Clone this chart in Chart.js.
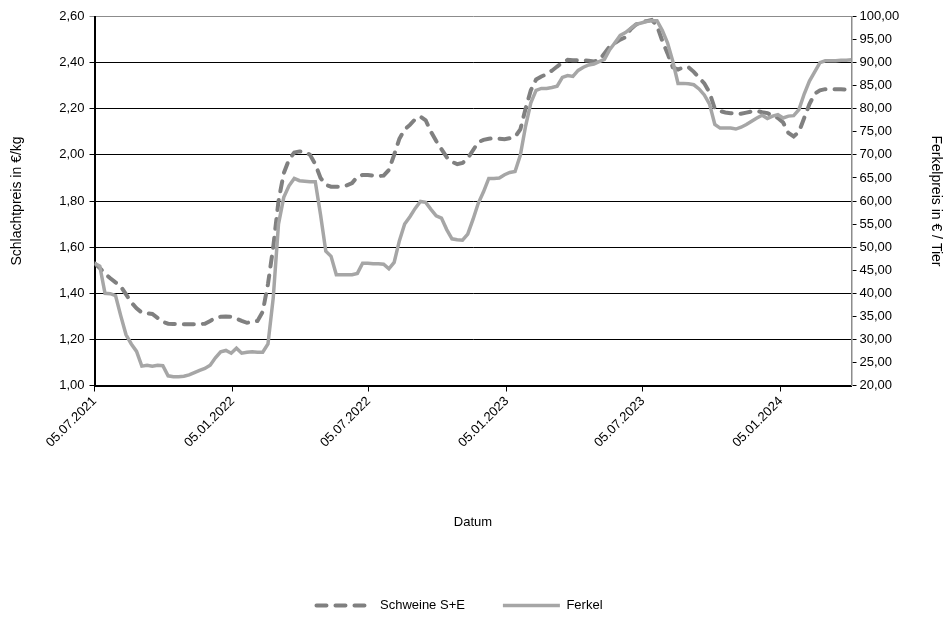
<!DOCTYPE html>
<html lang="de">
<head>
<meta charset="utf-8">
<title>Schlachtpreis und Ferkelpreis</title>
<script src="https://cdn.jsdelivr.net/npm/chart.js@4.4.1/dist/chart.umd.min.js"></script>
<style>
  html, body { margin: 0; padding: 0; background: #fff; }
  #wrap { width: 951px; height: 619px; }
</style>
</head>
<body>
<div id="wrap"><canvas id="preise"></canvas></div>
<script>
// Wochenwerte (Montag)
const datum = [
    '05.07.2021', '12.07.2021', '19.07.2021', '26.07.2021', '02.08.2021', '09.08.2021', '16.08.2021', '23.08.2021', '30.08.2021',
    '06.09.2021', '13.09.2021', '20.09.2021', '27.09.2021', '04.10.2021', '11.10.2021', '18.10.2021', '25.10.2021',
    '01.11.2021', '08.11.2021', '15.11.2021', '22.11.2021', '29.11.2021', '06.12.2021', '13.12.2021', '20.12.2021', '27.12.2021',
    '03.01.2022', '10.01.2022', '17.01.2022', '24.01.2022', '31.01.2022', '07.02.2022', '14.02.2022', '21.02.2022', '28.02.2022',
    '07.03.2022', '14.03.2022', '21.03.2022', '28.03.2022', '04.04.2022', '11.04.2022', '18.04.2022', '25.04.2022',
    '02.05.2022', '09.05.2022', '16.05.2022', '23.05.2022', '30.05.2022', '06.06.2022', '13.06.2022', '20.06.2022', '27.06.2022',
    '04.07.2022', '11.07.2022', '18.07.2022', '25.07.2022', '01.08.2022', '08.08.2022', '15.08.2022', '22.08.2022', '29.08.2022',
    '05.09.2022', '12.09.2022', '19.09.2022', '26.09.2022', '03.10.2022', '10.10.2022', '17.10.2022', '24.10.2022', '31.10.2022',
    '07.11.2022', '14.11.2022', '21.11.2022', '28.11.2022', '05.12.2022', '12.12.2022', '19.12.2022', '26.12.2022',
    '02.01.2023', '09.01.2023', '16.01.2023', '23.01.2023', '30.01.2023', '06.02.2023', '13.02.2023', '20.02.2023', '27.02.2023',
    '06.03.2023', '13.03.2023', '20.03.2023', '27.03.2023', '03.04.2023', '10.04.2023', '17.04.2023', '24.04.2023',
    '01.05.2023', '08.05.2023', '15.05.2023', '22.05.2023', '29.05.2023', '05.06.2023', '12.06.2023', '19.06.2023', '26.06.2023',
    '03.07.2023', '10.07.2023', '17.07.2023', '24.07.2023', '31.07.2023', '07.08.2023', '14.08.2023', '21.08.2023', '28.08.2023',
    '04.09.2023', '11.09.2023', '18.09.2023', '25.09.2023', '02.10.2023', '09.10.2023', '16.10.2023', '23.10.2023', '30.10.2023',
    '06.11.2023', '13.11.2023', '20.11.2023', '27.11.2023', '04.12.2023', '11.12.2023', '18.12.2023', '25.12.2023',
    '01.01.2024', '08.01.2024', '15.01.2024', '22.01.2024', '29.01.2024', '05.02.2024', '12.02.2024', '19.02.2024', '26.02.2024',
    '04.03.2024', '11.03.2024', '18.03.2024', '25.03.2024', '01.04.2024', '08.04.2024'
];

// Schlachtpreis Schweine S+E in €/kg
const schweine = [
    1.53, 1.51, 1.485, 1.465, 1.447, 1.43, 1.395, 1.36, 1.335, 1.316,
    1.313, 1.31, 1.293, 1.276, 1.268, 1.267, 1.266, 1.266, 1.266, 1.266,
    1.266, 1.268, 1.28, 1.293, 1.298, 1.299, 1.298, 1.29, 1.28, 1.272,
    1.275, 1.28, 1.32, 1.44, 1.60, 1.80, 1.92, 1.98, 2.01, 2.015,
    2.015, 2.0, 1.96, 1.90, 1.87, 1.862, 1.862, 1.863, 1.868, 1.878,
    1.905, 1.913, 1.913, 1.91, 1.908, 1.91, 1.935, 2.00, 2.07, 2.11,
    2.13, 2.155, 2.166, 2.15, 2.10, 2.06, 2.025, 1.99, 1.97, 1.96,
    1.965, 1.985, 2.02, 2.055, 2.065, 2.07, 2.072, 2.07, 2.068, 2.072,
    2.078, 2.11, 2.20, 2.28, 2.327, 2.34, 2.35, 2.365, 2.383, 2.40,
    2.412, 2.41, 2.41, 2.41, 2.408, 2.405, 2.41, 2.44, 2.47, 2.485,
    2.50, 2.51, 2.545, 2.565, 2.575, 2.58, 2.585, 2.56, 2.495, 2.44,
    2.38, 2.37, 2.38, 2.38, 2.36, 2.335, 2.31, 2.27, 2.20, 2.19,
    2.184, 2.181, 2.18, 2.178, 2.183, 2.188, 2.19, 2.185, 2.181, 2.17,
    2.16, 2.14, 2.095, 2.08, 2.10, 2.16, 2.22, 2.265, 2.28, 2.285,
    2.285, 2.285, 2.285, 2.283, 2.282
];

// Ferkelpreis in € je Tier
const ferkel = [
    46.5, 45.9, 40.0, 39.9, 39.5, 35.1, 31.0, 29.0, 27.4, 24.2,
    24.4, 24.2, 24.4, 24.3, 22.1, 21.9, 21.9, 22.0, 22.3, 22.8,
    23.3, 23.7, 24.4, 26.0, 27.3, 27.6, 27.0, 28.1, 27.0, 27.2,
    27.3, 27.2, 27.2, 29.0, 39.0, 55.0, 60.8, 63.3, 64.9, 64.4,
    64.3, 64.2, 64.2, 57.0, 49.1, 48.0, 44.0, 44.0, 44.0, 44.0,
    44.3, 46.5, 46.5, 46.4, 46.4, 46.3, 45.3, 46.7, 51.4, 55.0,
    56.6, 58.4, 59.9, 59.7, 58.2, 56.8, 56.3, 53.8, 51.8, 51.6,
    51.5, 52.8, 56.0, 59.5, 62.0, 64.9, 64.9, 65.0, 65.7, 66.2,
    66.4, 69.9, 76.2, 81.3, 84.0, 84.4, 84.4, 84.6, 84.9, 86.8,
    87.2, 87.0, 88.3, 89.0, 89.5, 89.7, 90.2, 90.7, 92.8, 94.3,
    95.9, 96.5, 97.4, 98.3, 98.6, 98.9, 99.1, 99.1, 97.0, 94.3,
    90.3, 85.5, 85.5, 85.4, 85.2, 84.3, 83.0, 81.0, 76.6, 75.8,
    75.8, 75.8, 75.6, 76.0, 76.6, 77.3, 78.0, 78.6, 77.9, 78.4,
    78.7, 78.0, 78.4, 78.5, 79.8, 83.2, 86.0, 88.0, 90.0, 90.4,
    90.4, 90.4, 90.5, 90.5, 90.6
];

// Beschriftung der Datumsachse
const achsenDaten = ['05.07.2021', '05.01.2022', '05.07.2022', '05.01.2023', '05.07.2023', '05.01.2024'];

const schrift = { family: "'Liberation Sans', Arial, sans-serif", size: 13 };

// Tage seit dem ersten Datum
function tage(s) {
    const [d, m, y] = s.split('.').map(Number);
    const [d0, m0, y0] = datum[0].split('.').map(Number);
    return (Date.UTC(y, m - 1, d) - Date.UTC(y0, m0 - 1, d0)) / 86400000;
}

const zahl = (v) => Number(v).toFixed(2).replace('.', ',');

// Legende wie im Original etwas nach links und unten
const legendeVersatz = {
    id: 'legendeVersatz',
    afterLayout(chart) {
        const l = chart.legend;
        l.left -= 16; l.right -= 16;
        l.top += 3; l.bottom += 3;
    }
};

Chart.defaults.font.family = schrift.family;
Chart.defaults.font.size = schrift.size;
Chart.defaults.color = '#000';

const ctx = document.getElementById('preise');

new Chart(ctx, {
    type: 'line',
    data: {
        datasets: [
            {
                label: 'Schweine S+E',
                data: datum.map((d, i) => ({ x: tage(d), y: schweine[i] })),
                yAxisID: 'y',
                borderColor: '#808080',
                borderWidth: 4,
                borderDash: [10, 9],
                borderCapStyle: 'round',
                pointRadius: 0,
                tension: 0,
                fill: false,
                order: 1,
            },
            {
                label: 'Ferkel',
                data: datum.map((d, i) => ({ x: tage(d), y: ferkel[i] })),
                yAxisID: 'y2',
                borderColor: '#a6a6a6',
                borderWidth: 3.5,
                pointRadius: 0,
                tension: 0,
                fill: false,
                order: 0,
            },
        ],
    },
    options: {
        responsive: true,
        maintainAspectRatio: false,
        animation: false,
        layout: { padding: { top: 16.5, left: 0, right: 0, bottom: 0 } },
        scales: {
            x: {
                type: 'linear',
                min: 0,
                max: tage(datum[datum.length - 1]),
                afterBuildTicks: (s) => { s.ticks = achsenDaten.map((d) => ({ value: tage(d) })); },
                afterFit: (s) => { s.height = 172.5; },
                ticks: {
                    autoSkip: false,
                    minRotation: 45,
                    maxRotation: 45,
                    padding: 2,
                    callback: (v, i) => achsenDaten[i],
                },
                grid: { drawOnChartArea: false, drawTicks: true, tickLength: 6, color: '#000' },
                border: { color: '#000', width: 2 },
                title: { display: true, text: 'Datum', padding: { top: 0, bottom: 28 } },
            },
            y: {
                position: 'left',
                min: 1,
                max: 2.6,
                afterFit: (s) => { s.width = 94.5; },
                ticks: { stepSize: 0.2, padding: 5, callback: (v) => zahl(v) },
                grid: {
                    color: (c) => (c.tick && Math.abs(c.tick.value - 2.6) < 1e-6 ? '#8c8c8c' : '#000'),
                    lineWidth: 1,
                    tickLength: 5,
                },
                border: { color: '#000', width: 2 },
                title: {
                    display: true,
                    text: 'Schlachtpreis in €/kg',
                    font: { size: 14 },
                    padding: { top: 9, bottom: 0 },
                },
            },
            y2: {
                position: 'right',
                min: 20,
                max: 100,
                afterFit: (s) => { s.width = 99.5; },
                ticks: { stepSize: 5, padding: 3, callback: (v) => zahl(v) },
                grid: { drawOnChartArea: false, tickLength: 5, color: '#000' },
                border: { color: '#8c8c8c', width: 1.5 },
                title: {
                    display: true,
                    text: 'Ferkelpreis in € / Tier',
                    font: { size: 14 },
                    padding: { top: 7, bottom: 0 },
                },
            },
        },
        plugins: {
            legend: {
                position: 'bottom',
                labels: {
                    usePointStyle: true,
                    pointStyle: 'line',
                    pointStyleWidth: 57,
                    padding: 38,
                    color: '#000',
                    sort: (a, b) => a.datasetIndex - b.datasetIndex,
                    // Linienart der Datenreihe auch im Legendenmuster
                    generateLabels: (chart) =>
                        Chart.defaults.plugins.legend.labels.generateLabels(chart).map((item) => {
                            const ds = chart.data.datasets[item.datasetIndex];
                            item.lineDash = ds.borderDash || [];
                            item.lineCap = ds.borderCapStyle || 'butt';
                            item.lineWidth = ds.borderWidth;
                            item.strokeStyle = ds.borderColor;
                            return item;
                        }),
                },
            },
            tooltip: { enabled: false },
        },
    },
    plugins: [legendeVersatz],
});
</script>
</body>
</html>
